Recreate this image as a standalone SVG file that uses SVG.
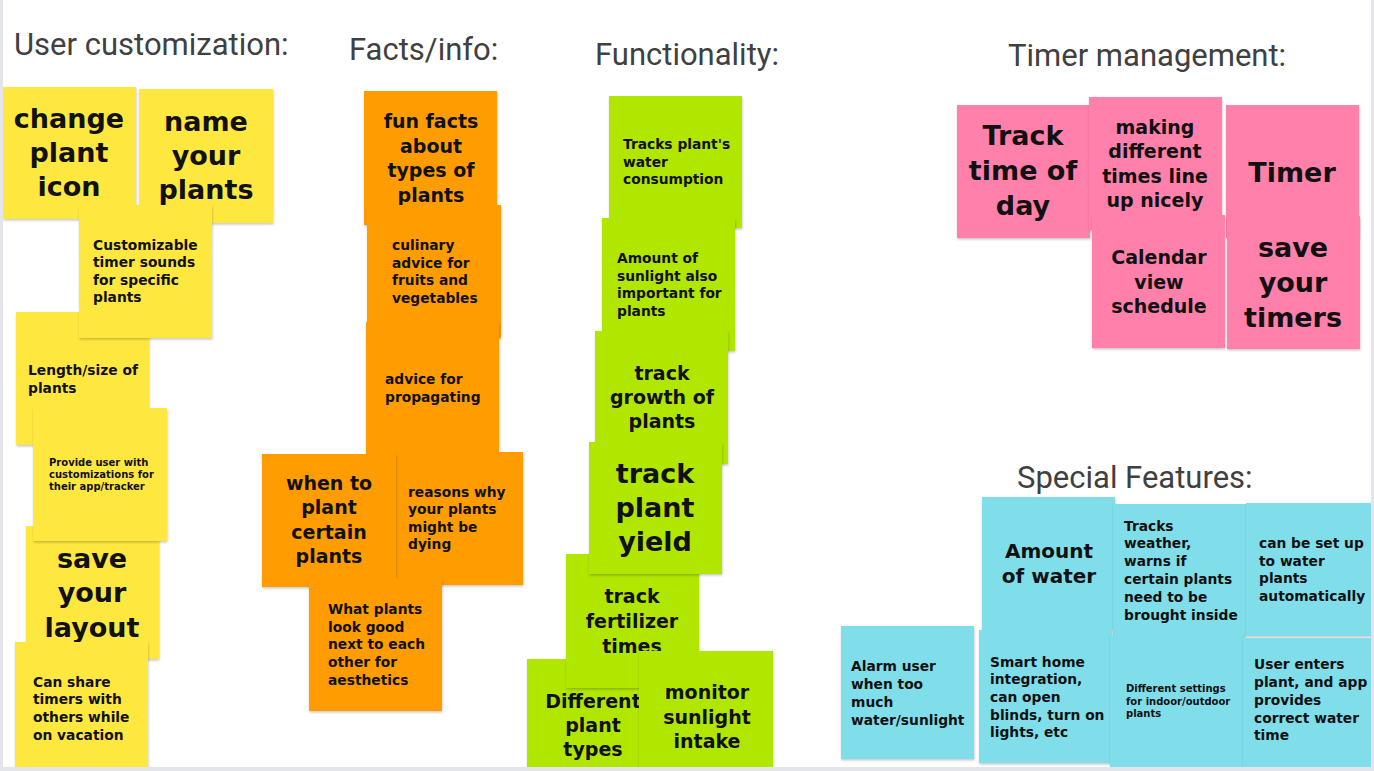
<svg xmlns="http://www.w3.org/2000/svg" width="1374" height="771" viewBox="0 0 1374 771">
<defs>
<filter id="sh" x="-5%" y="-5%" width="115%" height="115%">
<feDropShadow dx="0.5" dy="1.5" stdDeviation="1" flood-color="#000" flood-opacity="0.22"/>
</filter>
<clipPath id="board"><rect x="3" y="0" width="1368" height="767"/></clipPath>
</defs>
<style>
.n{filter:url(#sh)}
.y{fill:#FEE83F}
.o{fill:#FF9D00}
.g{fill:#B1E600}
.p{fill:#FF80AA}
.c{fill:#80DEEA}
text{font-family:"DejaVu Sans","Liberation Sans",sans-serif;font-weight:bold;fill:#111}
.big{font-size:27px}
.med{font-size:19px}
.m20{font-size:20px}
.sm{font-size:13.8px}
.xs{font-size:10px}
.mid{text-anchor:middle}
.hdr{font-family:Roboto,"Liberation Sans",sans-serif;font-weight:normal;font-size:31px;fill:#404040}
</style>
<rect x="0" y="0" width="1374" height="771" fill="#E4E5EA"/>
<rect x="3" y="0" width="1368" height="767" fill="#FFFFFF"/>
<g id="headers">
<text class="hdr" x="14" y="55">User customization:</text>
<text class="hdr" x="349" y="60">Facts/info:</text>
<text class="hdr" x="595" y="65">Functionality:</text>
<text class="hdr" x="1008" y="66">Timer management:</text>
<text class="hdr" x="1017" y="488">Special Features:</text>
</g>
<g id="notes" clip-path="url(#board)">
<!-- User customization -->
<g id="n-change"><rect class="n y" x="3" y="87" width="133" height="132"/><text class="big mid"><tspan x="69" y="128">change</tspan><tspan x="69" y="162">plant</tspan><tspan x="69" y="196">icon</tspan></text></g>
<g id="n-name"><rect class="n y" x="139" y="89" width="134" height="134"/><text class="big mid"><tspan x="206" y="131">name</tspan><tspan x="206" y="165">your</tspan><tspan x="206" y="199">plants</tspan></text></g>
<g id="n-length"><rect class="n y" x="16" y="312" width="133" height="133"/><text class="sm"><tspan x="28" y="375">Length/size of</tspan><tspan x="28" y="393">plants</tspan></text></g>
<g id="n-custom"><rect class="n y" x="79" y="205" width="133" height="133"/><text class="sm"><tspan x="93" y="250">Customizable</tspan><tspan x="93" y="267">timer sounds</tspan><tspan x="93" y="285">for specific</tspan><tspan x="93" y="302">plants</tspan></text></g>
<g id="n-savelayout"><rect class="n y" x="26" y="526" width="133" height="133"/><text class="big mid"><tspan x="92" y="568">save</tspan><tspan x="92" y="602">your</tspan><tspan x="92" y="637">layout</tspan></text></g>
<g id="n-provide"><rect class="n y" x="33" y="408" width="134" height="133"/><text class="xs"><tspan x="49" y="466">Provide user with</tspan><tspan x="49" y="478">customizations for</tspan><tspan x="49" y="490">their app/tracker</tspan></text></g>
<g id="n-share"><rect class="n y" x="15" y="642" width="133" height="133"/><text class="sm"><tspan x="33" y="687">Can share</tspan><tspan x="33" y="704">timers with</tspan><tspan x="33" y="722">others while</tspan><tspan x="33" y="740">on vacation</tspan></text></g>
<!-- Facts/info -->
<g id="n-funfacts"><rect class="n o" x="364" y="91" width="133" height="134"/><text class="med mid"><tspan x="431" y="128">fun facts</tspan><tspan x="431" y="153">about</tspan><tspan x="431" y="177">types of</tspan><tspan x="431" y="202">plants</tspan></text></g>
<g id="n-culinary"><rect class="n o" x="367" y="205" width="134" height="133"/><text class="sm"><tspan x="392" y="250">culinary</tspan><tspan x="392" y="268">advice for</tspan><tspan x="392" y="285">fruits and</tspan><tspan x="392" y="303">vegetables</tspan></text></g>
<g id="n-propagate"><rect class="n o" x="366" y="322" width="133" height="133"/><text class="sm"><tspan x="385" y="384">advice for</tspan><tspan x="385" y="402">propagating</tspan></text></g>
<g id="n-reasons"><rect class="n o" x="390" y="452" width="133" height="133"/><text class="sm"><tspan x="408" y="497">reasons why</tspan><tspan x="408" y="514">your plants</tspan><tspan x="408" y="532">might be</tspan><tspan x="408" y="549">dying</tspan></text></g>
<g id="n-whentoplant"><rect class="n o" x="262" y="454" width="134" height="133"/><text class="med mid"><tspan x="329" y="490">when to</tspan><tspan x="329" y="514">plant</tspan><tspan x="329" y="539">certain</tspan><tspan x="329" y="563">plants</tspan></text></g>
<g id="n-whatplants"><rect class="n o" x="309" y="578" width="133" height="133"/><text class="sm"><tspan x="328" y="614">What plants</tspan><tspan x="328" y="632">look good</tspan><tspan x="328" y="649">next to each</tspan><tspan x="328" y="667">other for</tspan><tspan x="328" y="685">aesthetics</tspan></text></g>
<!-- Functionality -->
<g id="n-watercons"><rect class="n g" x="609" y="96" width="133" height="132"/><text class="sm"><tspan x="623" y="149">Tracks plant's</tspan><tspan x="623" y="167">water</tspan><tspan x="623" y="184">consumption</tspan></text></g>
<g id="n-sunlight"><rect class="n g" x="602" y="218" width="133" height="133"/><text class="sm"><tspan x="617" y="263">Amount of</tspan><tspan x="617" y="281">sunlight also</tspan><tspan x="617" y="298">important for</tspan><tspan x="617" y="316">plants</tspan></text></g>
<g id="n-growth"><rect class="n g" x="595" y="331" width="133" height="133"/><text class="med mid"><tspan x="662" y="380">track</tspan><tspan x="662" y="404">growth of</tspan><tspan x="662" y="428">plants</tspan></text></g>
<g id="n-planttypes"><rect class="n g" x="527" y="659" width="133" height="133"/><text class="med mid"><tspan x="593" y="708">Different</tspan><tspan x="593" y="732">plant</tspan><tspan x="593" y="756">types</tspan></text></g>
<g id="n-fertilizer"><rect class="n g" x="566" y="554" width="133" height="134"/><text class="med mid"><tspan x="632" y="603">track</tspan><tspan x="632" y="628">fertilizer</tspan><tspan x="632" y="653">times</tspan></text></g>
<g id="n-yield"><rect class="n g" x="589" y="442" width="133" height="132"/><text class="big mid"><tspan x="655" y="483">track</tspan><tspan x="655" y="517">plant</tspan><tspan x="655" y="551">yield</tspan></text></g>
<g id="n-monitor"><rect class="n g" x="639" y="651" width="134" height="133"/><text class="med mid"><tspan x="707" y="699">monitor</tspan><tspan x="707" y="724">sunlight</tspan><tspan x="707" y="748">intake</tspan></text></g>
<!-- Timer management -->
<g id="n-tracktime"><rect class="n p" x="957" y="105" width="133" height="133"/><text class="big mid"><tspan x="1023" y="145">Track</tspan><tspan x="1023" y="180">time of</tspan><tspan x="1023" y="215">day</tspan></text></g>
<g id="n-making"><rect class="n p" x="1089" y="97" width="133" height="133"/><text class="med mid"><tspan x="1155" y="134">making</tspan><tspan x="1155" y="158">different</tspan><tspan x="1155" y="183">times line</tspan><tspan x="1155" y="207">up nicely</tspan></text></g>
<g id="n-timer"><rect class="n p" x="1226" y="105" width="133" height="133"/><text class="big mid"><tspan x="1292" y="182">Timer</tspan></text></g>
<g id="n-calendar"><rect class="n p" x="1092" y="215" width="133" height="133"/><text class="med mid"><tspan x="1159" y="264">Calendar</tspan><tspan x="1159" y="289">view</tspan><tspan x="1159" y="313">schedule</tspan></text></g>
<g id="n-savetimers"><rect class="n p" x="1227" y="216" width="133" height="133"/><text class="big mid"><tspan x="1293" y="257">save</tspan><tspan x="1293" y="292">your</tspan><tspan x="1293" y="327">timers</tspan></text></g>
<!-- Special Features -->
<g id="n-water"><rect class="n c" x="982" y="497" width="133" height="133"/><text class="m20 mid"><tspan x="1049" y="558">Amount</tspan><tspan x="1049" y="583">of water</tspan></text></g>
<g id="n-weather"><rect class="n c" x="1113" y="504" width="133" height="133"/><text class="sm"><tspan x="1124" y="531">Tracks</tspan><tspan x="1124" y="548">weather,</tspan><tspan x="1124" y="566">warns if</tspan><tspan x="1124" y="584">certain plants</tspan><tspan x="1124" y="602">need to be</tspan><tspan x="1124" y="620">brought inside</tspan></text></g>
<g id="n-autowater"><rect class="n c" x="1246" y="503" width="133" height="133"/><text class="sm"><tspan x="1259" y="548">can be set up</tspan><tspan x="1259" y="566">to water</tspan><tspan x="1259" y="583">plants</tspan><tspan x="1259" y="601">automatically</tspan></text></g>
<g id="n-alarm"><rect class="n c" x="841" y="626" width="133" height="133"/><text class="sm"><tspan x="851" y="671">Alarm user</tspan><tspan x="851" y="689">when too</tspan><tspan x="851" y="707">much</tspan><tspan x="851" y="725">water/sunlight</tspan></text></g>
<g id="n-smarthome"><rect class="n c" x="979" y="630" width="133" height="133"/><text class="sm"><tspan x="990" y="667">Smart home</tspan><tspan x="990" y="684">integration,</tspan><tspan x="990" y="702">can open</tspan><tspan x="990" y="720">blinds, turn on</tspan><tspan x="990" y="737">lights, etc</tspan></text></g>
<g id="n-settings"><rect class="n c" x="1110" y="635" width="133" height="133"/><text class="xs"><tspan x="1126" y="692">Different settings</tspan><tspan x="1126" y="705">for indoor/outdoor</tspan><tspan x="1126" y="717">plants</tspan></text></g>
<g id="n-userenters"><rect class="n c" x="1243" y="638" width="133" height="133"/><text class="sm"><tspan x="1254" y="669">User enters</tspan><tspan x="1254" y="687">plant, and app</tspan><tspan x="1254" y="705">provides</tspan><tspan x="1254" y="723">correct water</tspan><tspan x="1254" y="740">time</tspan></text></g>
</g>
<g id="connectors"/>
</svg>
